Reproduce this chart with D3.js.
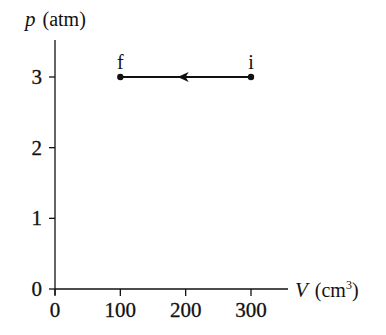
<!DOCTYPE html>
<html>
<head>
<meta charset="utf-8">
<script src="https://cdn.jsdelivr.net/npm/d3@7"></script>
<style>
  body { margin: 0; background: #fff; }
</style>
</head>
<body>
<svg width="386" height="335"></svg>
<script>
// Data
let volumes = [300, 100];        // i -> f
let pressures = [3, 3];
let stateLabels = ["i", "f"];
let xTicks = [0, 100, 200, 300];
let yTicks = [0, 1, 2, 3];

const serif = "'Liberation Serif', 'Times New Roman', Times, serif";

let svg = d3.select("svg")
    .attr("font-family", serif);

// Scales
let x = d3.scaleLinear().domain([0, 300]).range([55, 251]);
let y = d3.scaleLinear().domain([0, 3]).range([289, 77]);

// Axes lines
svg.append("line")
    .attr("x1", x(0)).attr("x2", 288)
    .attr("y1", y(0)).attr("y2", y(0))
    .attr("stroke", "#111").attr("stroke-width", 1.3);
svg.append("line")
    .attr("x1", x(0)).attr("x2", x(0))
    .attr("y1", 40).attr("y2", y(0) + 6)
    .attr("stroke", "#111").attr("stroke-width", 1.3);

// x ticks
svg.selectAll(".xt").data(xTicks).enter().append("line")
    .attr("x1", d => x(d)).attr("x2", d => x(d))
    .attr("y1", y(0)).attr("y2", y(0) + 7)
    .attr("stroke", "#111").attr("stroke-width", 1.3);
svg.selectAll(".xl").data(xTicks).enter().append("text")
    .attr("x", d => x(d)).attr("y", 317)
    .attr("text-anchor", "middle")
    .attr("font-size", 21)
    .attr("fill", "#111")
    .attr("stroke", "#111").attr("stroke-width", 0.3)
    .text(d => d);

// y ticks
svg.selectAll(".yt").data(yTicks).enter().append("line")
    .attr("x1", x(0) - 6).attr("x2", x(0))
    .attr("y1", d => y(d)).attr("y2", d => y(d))
    .attr("stroke", "#111").attr("stroke-width", 1.3);
svg.selectAll(".yl").data(yTicks).enter().append("text")
    .attr("x", 42).attr("y", d => y(d) + 7)
    .attr("text-anchor", "end")
    .attr("font-size", 21)
    .attr("fill", "#111")
    .attr("stroke", "#111").attr("stroke-width", 0.3)
    .text(d => d);

// Axis titles
let yt = svg.append("text").attr("x", 25).attr("y", 26)
    .attr("font-size", 20).attr("fill", "#111");
yt.append("tspan").attr("font-style", "italic").attr("font-size", 21).text("p");
yt.append("tspan").attr("dx", 2).text(" (atm)");

let xt = svg.append("text").attr("x", 295).attr("y", 297)
    .attr("font-size", 20).attr("fill", "#111");
xt.append("tspan").attr("font-style", "italic").attr("font-size", 21).text("V");
xt.append("tspan").attr("dx", 2).text(" (cm");
xt.append("tspan").attr("font-size", 12).attr("dy", -8).text("3");
xt.append("tspan").attr("dy", 8).text(")");

// Process line
svg.append("line")
    .attr("x1", x(volumes[0])).attr("x2", x(volumes[1]))
    .attr("y1", y(pressures[0])).attr("y2", y(pressures[1]))
    .attr("stroke", "#111").attr("stroke-width", 2.2);

// Arrowhead at midpoint pointing toward f
let mx = x((volumes[0] + volumes[1]) / 2) - 3;
let my = y(pressures[0]);
svg.append("path")
    .attr("d", `M${mx - 5},${my} L${mx + 6},${my - 5} L${mx + 3},${my} L${mx + 6},${my + 5} Z`)
    .attr("fill", "#111");

// Points
svg.selectAll(".pt").data(volumes).enter().append("circle")
    .attr("cx", d => x(d)).attr("cy", (d, i) => y(pressures[i]))
    .attr("r", 3.2).attr("fill", "#111");

svg.selectAll(".pl").data(volumes).enter().append("text")
    .attr("x", d => x(d)).attr("y", (d, i) => y(pressures[i]) - 8)
    .attr("text-anchor", "middle")
    .attr("font-size", 20)
    .attr("fill", "#111")
    .text((d, i) => stateLabels[i]);
</script>
</body>
</html>
